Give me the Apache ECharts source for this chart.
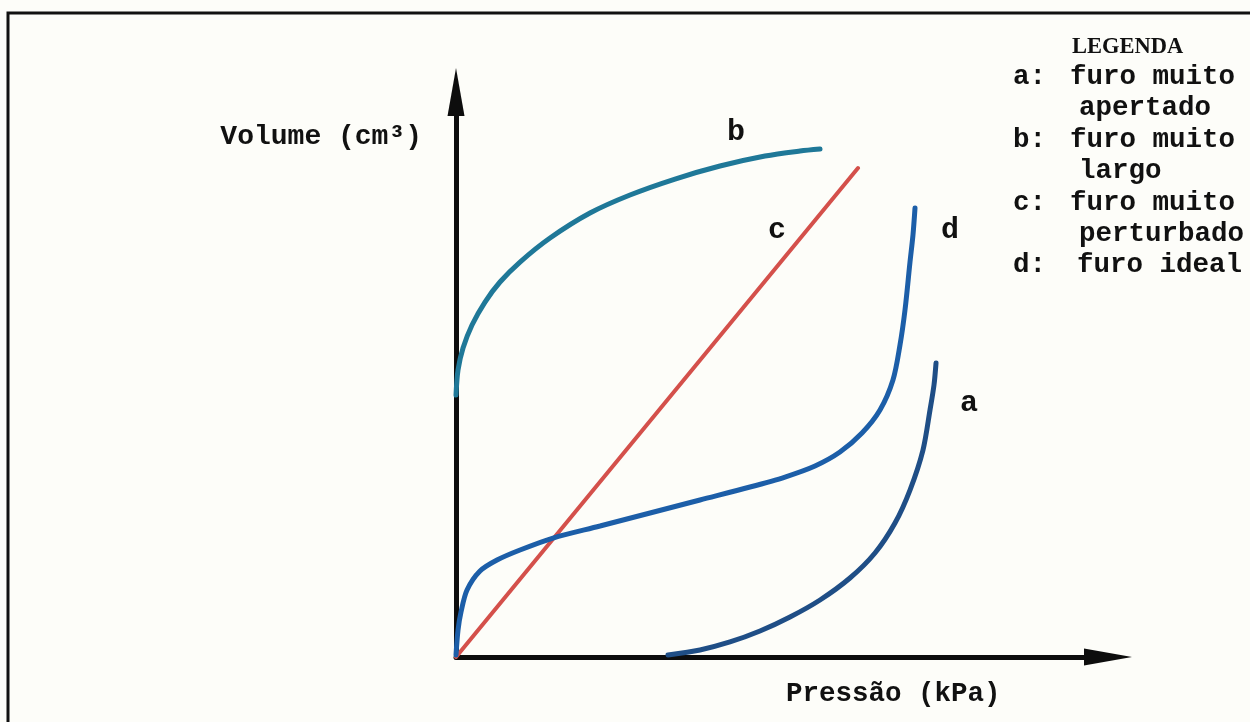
<!DOCTYPE html>
<html>
<head>
<meta charset="utf-8">
<script src="https://cdn.jsdelivr.net/npm/echarts@6/dist/echarts.min.js"></script>
<style>
  html, body { margin: 0; padding: 0; background: #fdfdf9; }
  #chart { width: 1250px; height: 722px; }
</style>
</head>
<body>
<div id="chart"></div>
<script>
// no ticks in the original figure, so units are arbitrary
const curveA = [[31.36,0.34],[36.09,1.19],[40.53,2.55],[44.97,4.41],[49.41,6.79],[53.85,9.68],[58.28,13.41],[61.98,17.66],[64.94,22.75],[67.16,28.35],[69.08,35.14],[70.12,41.94],[70.71,46.18],[71.01,49.92]];
const curveB = [[0,44.48],[0.30,48.73],[1.04,52.46],[2.37,56.37],[4.29,60.27],[6.51,63.67],[9.47,67.06],[13.91,71.14],[19.82,75.38],[25.74,78.44],[32.40,81.15],[39.05,83.36],[45.71,85.06],[50.89,85.91],[53.85,86.25]];
const curveC = [[0,0],[59.47,83.02]];
const curveD = [[0,0.34],[0.30,4.58],[0.74,7.64],[1.63,11.38],[3.55,14.60],[6.07,16.47],[9.47,18.17],[14.35,20.20],[21.30,22.24],[28.70,24.45],[36.09,26.66],[43.49,28.86],[48.67,30.56],[53.11,32.43],[56.80,34.80],[60.06,38.03],[62.72,41.94],[64.64,47.03],[65.68,52.97],[66.42,58.91],[67.16,67.06],[67.60,71.65],[67.90,76.23]];

const curveNames = ['a', 'b', 'c', 'd'];
const labelPos = [[75.89,43.12],[41.42,89.13],[47.49,72.50],[73.08,72.50]];

const legendTitle = 'LEGENDA';
const legendKeys = ['a:', '', 'b:', '', 'c:', '', 'd:'];
const legendLines = ['furo muito', 'apertado', 'furo muito', 'largo', 'furo muito', 'perturbado', 'furo ideal'];

const xName = 'Pressão (kPa)';
const yName = 'Volume (cm³)';

const mono = '"Liberation Mono", "DejaVu Sans Mono", monospace';
const chart = echarts.init(document.getElementById('chart'));

function curve(name, data, color, width) {
  return {
    name: name,
    type: 'line',
    data: data,
    smooth: 0.3,
    showSymbol: false,
    clip: false,
    silent: true,
    lineStyle: { color: color, width: width, cap: 'round' }
  };
}

const legendGraphics = [];
legendGraphics.push({
  type: 'text', x: 1072, y: 47,
  style: { text: legendTitle, font: 'bold 22.5px "Liberation Serif", serif', fill: '#111', verticalAlign: 'middle' }
});
legendLines.forEach(function (line, i) {
  const y = 77 + i * 31.4;
  if (legendKeys[i]) {
    legendGraphics.push({
      type: 'text', x: 1013, y: y,
      style: { text: legendKeys[i], font: 'bold 27.5px ' + mono, fill: '#111', verticalAlign: 'middle' }
    });
  }
  const indent = legendKeys[i] === 'd:' ? 1077 : (legendKeys[i] ? 1070 : 1079);
  legendGraphics.push({
    type: 'text', x: indent, y: y,
    style: { text: line, font: 'bold 27.5px ' + mono, fill: '#111', verticalAlign: 'middle' }
  });
});

// arrow heads are centred on the axis end, so the axes stop half a head short of the tips
chart.setOption({
  backgroundColor: '#fdfdf9',
  animation: false,
  grid: { left: 456, right: 142, top: 92, bottom: 65 },
  xAxis: {
    type: 'value', min: 0, max: 96.45,
    axisLine: { onZero: false, symbol: ['none', 'triangle'], symbolSize: [17, 48], lineStyle: { color: '#0d0d0d', width: 5 } },
    axisTick: { show: false }, axisLabel: { show: false }, splitLine: { show: false }
  },
  yAxis: {
    type: 'value', min: 0, max: 95.93,
    axisLine: { show: true, onZero: false, symbol: ['none', 'triangle'], symbolSize: [17, 48], lineStyle: { color: '#0d0d0d', width: 5 } },
    axisTick: { show: false }, axisLabel: { show: false }, splitLine: { show: false }
  },
  series: [
    curve('a', curveA, '#1f4e86', 5),
    curve('b', curveB, '#1f7898', 5),
    curve('c', curveC, '#d4504b', 4),
    curve('d', curveD, '#1c5ea8', 5),
    {
      type: 'scatter',
      symbolSize: 0,
      silent: true,
      itemStyle: { opacity: 1 },
      data: labelPos.map(function (p, i) { return { name: curveNames[i], value: p }; }),
      label: {
        show: true, position: 'inside', formatter: '{b}',
        fontFamily: mono, fontWeight: 'bold', fontSize: 30, color: '#111',
        textBorderWidth: 0, opacity: 1
      }
    }
  ],
  graphic: [
    {
      type: 'polyline',
      shape: { points: [[8, 722], [8, 13], [1250, 13]] },
      style: { stroke: '#111', lineWidth: 3, fill: null }
    },
    {
      type: 'text', x: 422, y: 137,
      style: { text: yName, font: 'bold 28px ' + mono, fill: '#111', align: 'right', verticalAlign: 'middle' }
    },
    {
      type: 'text', x: 786, y: 694,
      style: { text: xName, font: 'bold 27.5px ' + mono, fill: '#111', verticalAlign: 'middle' }
    }
  ].concat(legendGraphics)
});
</script>
</body>
</html>
